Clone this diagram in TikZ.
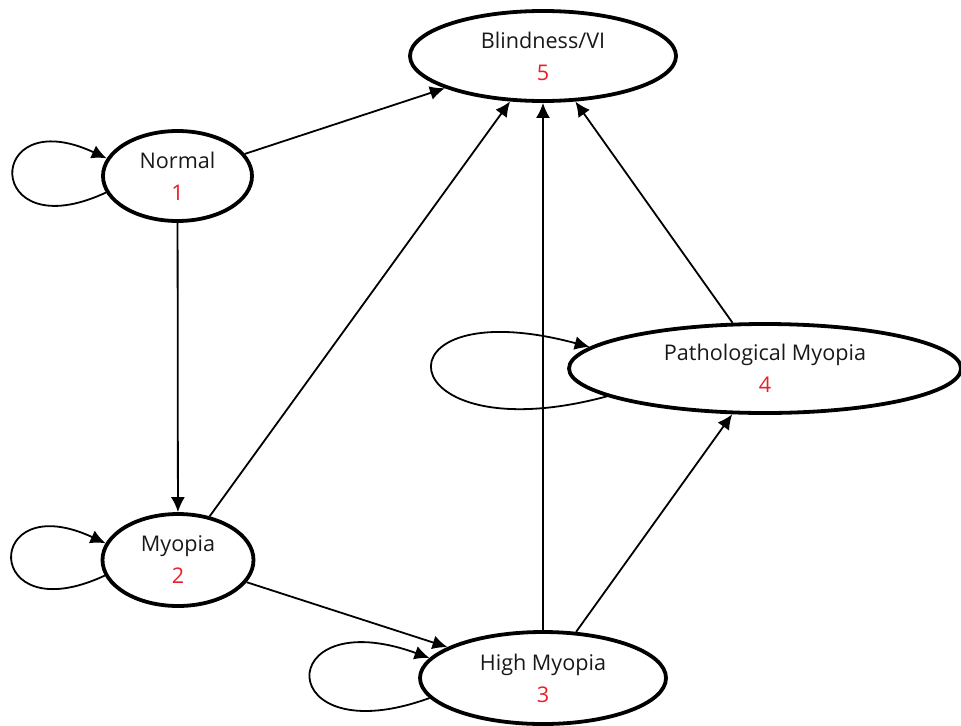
\documentclass[tikz,border=0pt]{standalone}
\usepackage{fontspec}
\setmainfont{Open Sans}
\usetikzlibrary{shapes.geometric,arrows.meta,positioning}
\definecolor{numred}{RGB}{232,30,40}
\definecolor{labgray}{RGB}{25,25,25}

\begin{document}
\begin{tikzpicture}[x=0.5pt, y=0.5pt, >={Latex[length=7.5pt,width=7pt]}, line width=0.9pt,
    stage/.style={draw, ellipse, line width=1.9pt, inner sep=0pt, align=center, text=labgray,
        font=\fontsize{10.8}{13}\selectfont}]
    \useasboundingbox (0,0) rectangle (961,725);
    \node [stage, minimum width=133pt, minimum height=45pt] (blind) at (543,669) {Blindness/VI\\[3pt]\textcolor{numred}{5}};
    \node [stage, minimum width=74.5pt, minimum height=45pt] (normal) at (177.5,549) {Normal\\[3pt]\textcolor{numred}{1}};
    \node [stage, minimum width=75.5pt, minimum height=46pt] (myopia) at (178,165) {Myopia\\[3pt]\textcolor{numred}{2}};
    \node [stage, minimum width=123pt, minimum height=46pt] (high) at (543,47) {High Myopia\\[3pt]\textcolor{numred}{3}};
    \node [stage, minimum width=196pt, minimum height=44.5pt] (patho) at (765,356.5) {Pathological Myopia\\[3pt]\textcolor{numred}{4}};

    % self loops
    \draw [->] (normal.193) to [out=205, in=155, distance=68pt] (normal.166);
    \draw [->] (myopia.192) to [out=205, in=155, distance=68pt] (myopia.167);
    \draw [->] (high.190) to [out=200, in=160, distance=84pt] (high.170);
    \draw [->] (patho.190) to [out=195, in=165, distance=114pt] (patho.173);

    % transitions
    \draw [->] (normal) -- (blind);
    \draw [->] (normal) -- (myopia);
    \draw [->] (myopia) -- (blind);
    \draw [->] (myopia) -- (high);
    \draw [->] (high) -- (blind);
    \draw [->] (high) -- (patho);
    \draw [->] (patho) -- (blind);
\end{tikzpicture}
\end{document}
